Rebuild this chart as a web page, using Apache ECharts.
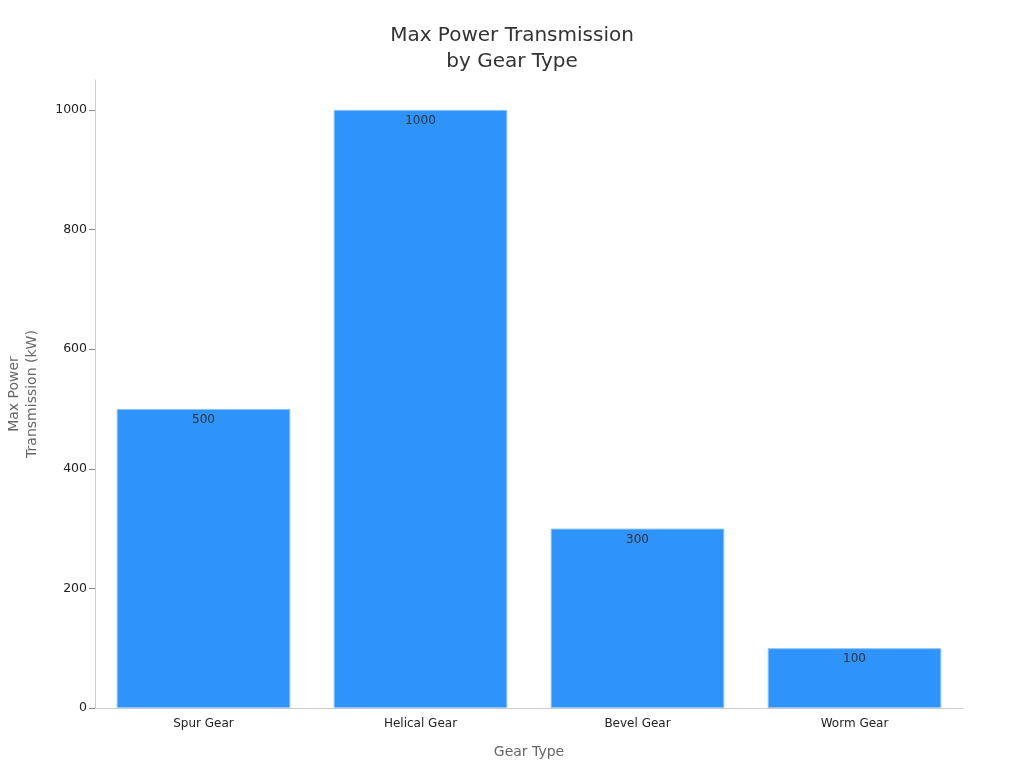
<!DOCTYPE html>
<html lang="en">
<head>
  <meta charset="UTF-8">
  <title>Max Power Transmission by Gear Type</title>
  <style>
    html, body { margin: 0; padding: 0; background: #fff; }
    #chart { width: 1024px; height: 768px; }
  </style>
</head>
<body>
  <div id="chart"></div>
<script src="https://cdn.jsdelivr.net/npm/echarts@6/dist/echarts.min.js"></script>
<script>
  // data
  let gearTypes = ['Spur Gear', 'Helical Gear', 'Bevel Gear', 'Worm Gear']
  let maxPower = [500, 1000, 300, 100]
  let yTicks = [0, 200, 400, 600, 800, 1000]

  let chart = echarts.init(document.getElementById('chart'))
  let font = 'DejaVu Sans'

  chart.setOption({
    animation: false,
    textStyle: { fontFamily: font },
    title: {
      text: 'Max Power Transmission\nby Gear Type',
      left: 'center',
      top: 18,
      textStyle: { fontSize: 20, fontWeight: 'normal', color: '#333', lineHeight: 26, fontFamily: font }
    },
    grid: { left: 95, right: 61, top: 80, bottom: 60, outerBoundsMode: 'none', containLabel: false },
    xAxis: {
      type: 'category',
      data: gearTypes,
      name: 'Gear Type',
      nameLocation: 'middle',
      nameGap: 37,
      nameTextStyle: { fontSize: 14, color: '#666' },
      axisLine: { lineStyle: { color: '#ccc' } },
      axisTick: { alignWithLabel: true, length: 5, lineStyle: { color: '#888' } },
      axisLabel: { color: '#222', fontSize: 12, margin: 10 }
    },
    yAxis: {
      type: 'value',
      min: 0,
      max: 1050,
      interval: 200,
      name: 'Max Power\nTransmission (kW)',
      nameLocation: 'middle',
      nameGap: 54,
      nameTextStyle: { fontSize: 14, color: '#666', lineHeight: 18 },
      axisLine: { show: true, lineStyle: { color: '#ccc' } },
      axisTick: { show: true, length: 6, customValues: yTicks, lineStyle: { color: '#888' } },
      axisLabel: {
        color: '#222',
        fontSize: 12.5,
        margin: 8,
        customValues: yTicks,
        formatter: v => String(v)
      },
      splitLine: { show: false }
    },
    series: [{
      type: 'bar',
      data: maxPower,
      barWidth: '80%',
      itemStyle: { color: '#2E93FA', borderColor: '#8cc4fc', borderWidth: 1 },
      label: {
        show: true,
        position: 'insideTop',
        distance: 5,
        color: '#333',
        fontSize: 12
      }
    }]
  })
</script>
</body>
</html>
